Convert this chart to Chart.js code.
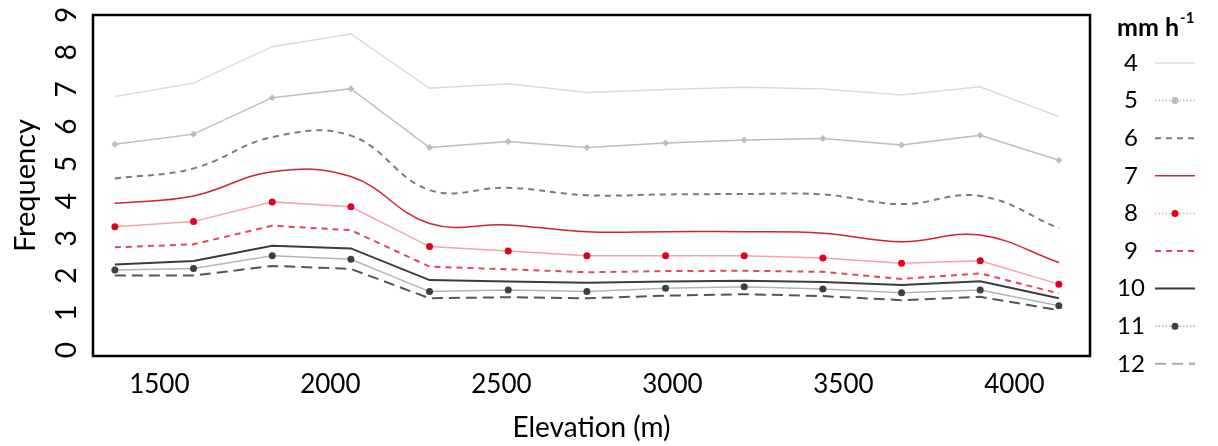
<!DOCTYPE html>
<html>
<head>
<meta charset="utf-8">
<title>Frequency by elevation</title>
<script src="https://cdn.jsdelivr.net/npm/chart.js@4.4.1/dist/chart.umd.min.js"></script>
<style>
  html, body { margin: 0; padding: 0; background: #fff; }
  #wrap { width: 1218px; height: 446px; position: relative; }
</style>
</head>
<body>
<div id="wrap"><canvas id="freqChart" width="1218" height="446"></canvas></div>
<script>
// Elevation bands (m) and the frequency of each rain rate (mm h-1)
var elevation = [1370, 1600, 1830, 2060, 2290, 2520, 2750, 2980, 3210, 3440, 3670, 3900, 4130];

var rate4  = [6.81, 7.17, 8.15, 8.49, 7.03, 7.15, 6.92, 7.00, 7.06, 7.01, 6.85, 7.07, 6.27];
var rate5  = [5.53, 5.80, 6.78, 7.02, 5.44, 5.60, 5.44, 5.56, 5.64, 5.68, 5.51, 5.77, 5.10];
var rate6  = [4.61, 4.88, 5.72, 5.76, 4.30, 4.36, 4.16, 4.18, 4.19, 4.18, 3.92, 4.14, 3.27];
var rate7  = [3.94, 4.14, 4.79, 4.66, 3.40, 3.36, 3.18, 3.18, 3.18, 3.14, 2.91, 3.09, 2.35];
var rate8  = [3.31, 3.45, 3.98, 3.85, 2.78, 2.66, 2.53, 2.53, 2.53, 2.47, 2.33, 2.40, 1.77];
var rate9  = [2.76, 2.84, 3.34, 3.22, 2.24, 2.17, 2.09, 2.12, 2.13, 2.10, 1.91, 2.06, 1.52];
var rate10 = [2.30, 2.39, 2.80, 2.73, 1.88, 1.84, 1.81, 1.84, 1.86, 1.83, 1.75, 1.85, 1.39];
var rate11 = [2.15, 2.19, 2.53, 2.44, 1.57, 1.61, 1.57, 1.66, 1.70, 1.64, 1.54, 1.61, 1.19];
var rate12 = [2.00, 2.00, 2.26, 2.18, 1.39, 1.42, 1.39, 1.46, 1.50, 1.45, 1.34, 1.43, 1.07];

var xTicks = [1500, 2000, 2500, 3000, 3500, 4000];
var yTicks = [0, 1, 2, 3, 4, 5, 6, 7, 8, 9];

var FONT = 'Lato, "Open Sans", sans-serif';

function line(label, data, color, width, dash, tension) {
  return {
    label: label,
    data: data,
    borderColor: color,
    borderWidth: width,
    borderDash: dash,
    tension: tension,
    pointRadius: 0,
    fill: false
  };
}

function marked(label, data, color, markColor, style) {
  var ds = line(label, data, color, 1.5, [], 0);
  ds.pointRadius = 3.5;
  ds.pointStyle = style;
  ds.pointBackgroundColor = markColor;
  ds.pointBorderColor = markColor;
  ds.pointBorderWidth = 0;
  ds.legendDash = [1.5, 2];
  return ds;
}

var datasets = [
  line('4', rate4, '#d9d9d9', 1.5, [], 0),
  marked('5', rate5, '#bdbdbd', '#bdbdbd', 'rectRot'),
  line('6', rate6, '#7a7a7a', 2, [6, 5], 0.4),
  line('7', rate7, '#d42234', 1.5, [], 0.4),
  marked('8', rate8, '#f6a3ab', '#e3001b', 'circle'),
  line('9', rate9, '#e2485a', 2, [6, 5], 0),
  line('10', rate10, '#3c3c3c', 2, [], 0),
  marked('11', rate11, '#b4b4b4', '#3f3f3f', 'circle'),
  line('12', rate12, '#555555', 2, [11, 6], 0)
];
datasets[8].legendColor = '#a8a8a8';

// frame round the plot area
var frame = {
  id: 'frame',
  afterDraw: function (chart) {
    var a = chart.chartArea, ctx = chart.ctx;
    ctx.save();
    ctx.strokeStyle = '#000';
    ctx.lineWidth = 2.5;
    ctx.strokeRect(a.left, a.top, a.right - a.left, a.bottom - a.top);
    ctx.restore();
  }
};

// y tick labels are turned like the axis title
var yLabels = {
  id: 'yLabels',
  afterDraw: function (chart) {
    var y = chart.scales.y, ctx = chart.ctx;
    ctx.save();
    ctx.fillStyle = '#000';
    ctx.font = '28px ' + FONT;
    ctx.textAlign = 'center';
    ctx.textBaseline = 'middle';
    yTicks.forEach(function (v) {
      ctx.save();
      ctx.translate(67, y.getPixelForValue(v));
      ctx.rotate(-Math.PI / 2);
      ctx.fillText(String(v), 0, 0);
      ctx.restore();
    });
    ctx.restore();
  }
};

// legend on the right: number first, then the line sample
var rateLegend = {
  id: 'rateLegend',
  afterDraw: function (chart) {
    var ctx = chart.ctx;
    ctx.save();
    ctx.fillStyle = '#000';
    ctx.textBaseline = 'middle';
    ctx.textAlign = 'left';
    ctx.font = 'bold 25px ' + FONT;
    ctx.fillText('mm h', 1117, 28);
    var w = ctx.measureText('mm h').width;
    ctx.font = 'bold 15px ' + FONT;
    ctx.fillText('-1', 1117 + w + 1, 18);

    chart.data.datasets.forEach(function (ds, i) {
      var y = 63 + i * 37.6;
      ctx.fillStyle = '#000';
      ctx.font = '24px ' + FONT;
      ctx.textAlign = 'center';
      ctx.fillText(ds.label, 1131, y);

      ctx.strokeStyle = ds.legendColor || ds.borderColor;
      ctx.lineWidth = ds.borderWidth;
      ctx.setLineDash(ds.legendDash || ds.borderDash);
      ctx.beginPath();
      ctx.moveTo(1155, y);
      ctx.lineTo(1195, y);
      ctx.stroke();
      ctx.setLineDash([]);
      if (ds.pointRadius > 0) {
        ctx.fillStyle = ds.pointBackgroundColor;
        ctx.beginPath();
        ctx.arc(1175, y, 3.5, 0, Math.PI * 2);
        ctx.fill();
      }
    });
    ctx.restore();
  }
};

new Chart(document.getElementById('freqChart'), {
  type: 'line',
  data: { labels: elevation, datasets: datasets },
  options: {
    responsive: false,
    animation: false,
    layout: { padding: { top: 15, right: 128, left: 0, bottom: 0 } },
    plugins: { legend: { display: false }, tooltip: { enabled: false } },
    scales: {
      x: {
        type: 'linear',
        min: 1306,
        max: 4221,
        grid: { display: false, drawTicks: false },
        border: { display: false },
        afterBuildTicks: function (s) { s.ticks = xTicks.map(function (v) { return { value: v }; }); },
        afterFit: function (s) { s.height = 90; },
        ticks: {
          padding: 13,
          color: '#000',
          maxRotation: 0,
          autoSkip: false,
          font: { family: FONT, size: 26 },
          callback: function (v) { return String(v); }
        },
        title: {
          display: true,
          text: 'Elevation (m)',
          color: '#000',
          font: { family: FONT, size: 28 },
          padding: { top: 0, bottom: 1 }
        }
      },
      y: {
        min: -0.16,
        max: 9,
        grid: { display: false, drawTicks: false },
        border: { display: false },
        ticks: { display: false },
        afterFit: function (s) { s.width = 93; },
        title: {
          display: true,
          text: 'Frequency',
          color: '#000',
          font: { family: FONT, size: 29 },
          padding: { top: 8, bottom: 0 }
        }
      }
    }
  },
  plugins: [frame, yLabels, rateLegend]
});
</script>
</body>
</html>
